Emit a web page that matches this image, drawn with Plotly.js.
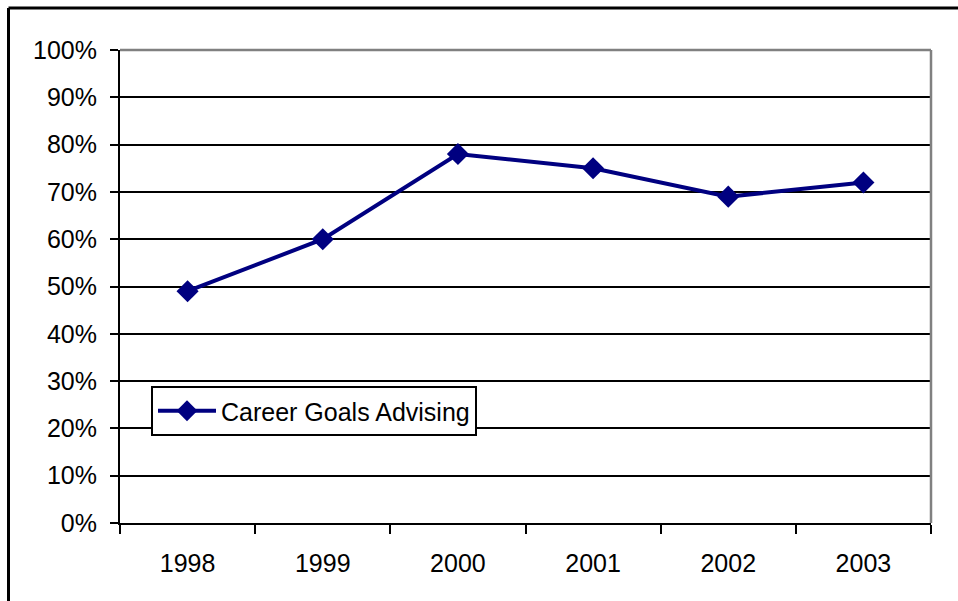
<!DOCTYPE html>
<html>
<head>
<meta charset="utf-8">
<script src="https://cdn.plot.ly/plotly-3.0.1.min.js"></script>
<style>
html,body{margin:0;padding:0;background:#fff;}
#chart{width:958px;height:601px;}
</style>
</head>
<body>
<div id="chart"></div>
<script>
const years = ['1998','1999','2000','2001','2002','2003'];
const careerGoalsAdvising = [0.49, 0.60, 0.78, 0.75, 0.69, 0.72];
const seriesName = 'Career Goals Advising';
const yTickVals = [0,0.1,0.2,0.3,0.4,0.5,0.6,0.7,0.8,0.9,1.0];

const W = 958, H = 601;
const M = {l:120, r:27, t:50, b:78, pad:0};
const pw = W - M.l - M.r, ph = H - M.t - M.b;
const px = x => (x - M.l) / pw;
const py = y => (H - M.b - y) / ph;

const font = {family:'"Liberation Sans", Arial, sans-serif', size:25, color:'#000'};

const trace = {
  x: years, y: careerGoalsAdvising, name: seriesName,
  type:'scatter', mode:'lines+markers',
  line:{color:'#000080', width:4},
  marker:{symbol:'diamond', size:17, color:'#000080'},
  showlegend:true
};

const layout = {
  width:W, height:H, margin:M,
  paper_bgcolor:'#fff', plot_bgcolor:'#fff',
  font:font,
  showlegend:true,
  xaxis:{
    type:'category', range:[-0.5,5.5], fixedrange:true,
    showgrid:false, zeroline:false,
    showline:true, linecolor:'#000', linewidth:2,
    ticks:'outside', tickson:'boundaries', ticklen:9, tickwidth:2, tickcolor:'#000',
    ticklabelstandoff:17, tickfont:font
  },
  yaxis:{
    range:[0,1], fixedrange:true,
    tickvals:yTickVals, tickformat:'.0%',
    showgrid:true, gridcolor:'#000', gridwidth:2,
    zeroline:false,
    showline:true, linecolor:'#000', linewidth:2,
    ticks:'outside', ticklen:8, tickwidth:2, tickcolor:'#000',
    ticklabelstandoff:8, tickfont:font
  },
  legend:{
    x:px(151), y:py(386), xanchor:'left', yanchor:'top',
    bgcolor:'#fff', bordercolor:'#000', borderwidth:2,
    font:font, itemwidth:58
  },
  shapes:[
    {type:'line', xref:'paper', yref:'paper', x0:0, x1:1, y0:1, y1:1, line:{color:'#808080', width:2.5}},
    {type:'line', xref:'paper', yref:'paper', x0:1, x1:1, y0:0, y1:1, line:{color:'#808080', width:2.5}},
    {type:'line', xref:'paper', yref:'paper', x0:px(8.5), x1:px(958), y0:py(8), y1:py(8), line:{color:'#000', width:3}},
    {type:'line', xref:'paper', yref:'paper', x0:px(8.5), x1:px(8.5), y0:py(8), y1:py(601), line:{color:'#000', width:3}}
  ]
};

Plotly.newPlot('chart', [trace], layout, {staticPlot:true, displayModeBar:false});
</script>
</body>
</html>
